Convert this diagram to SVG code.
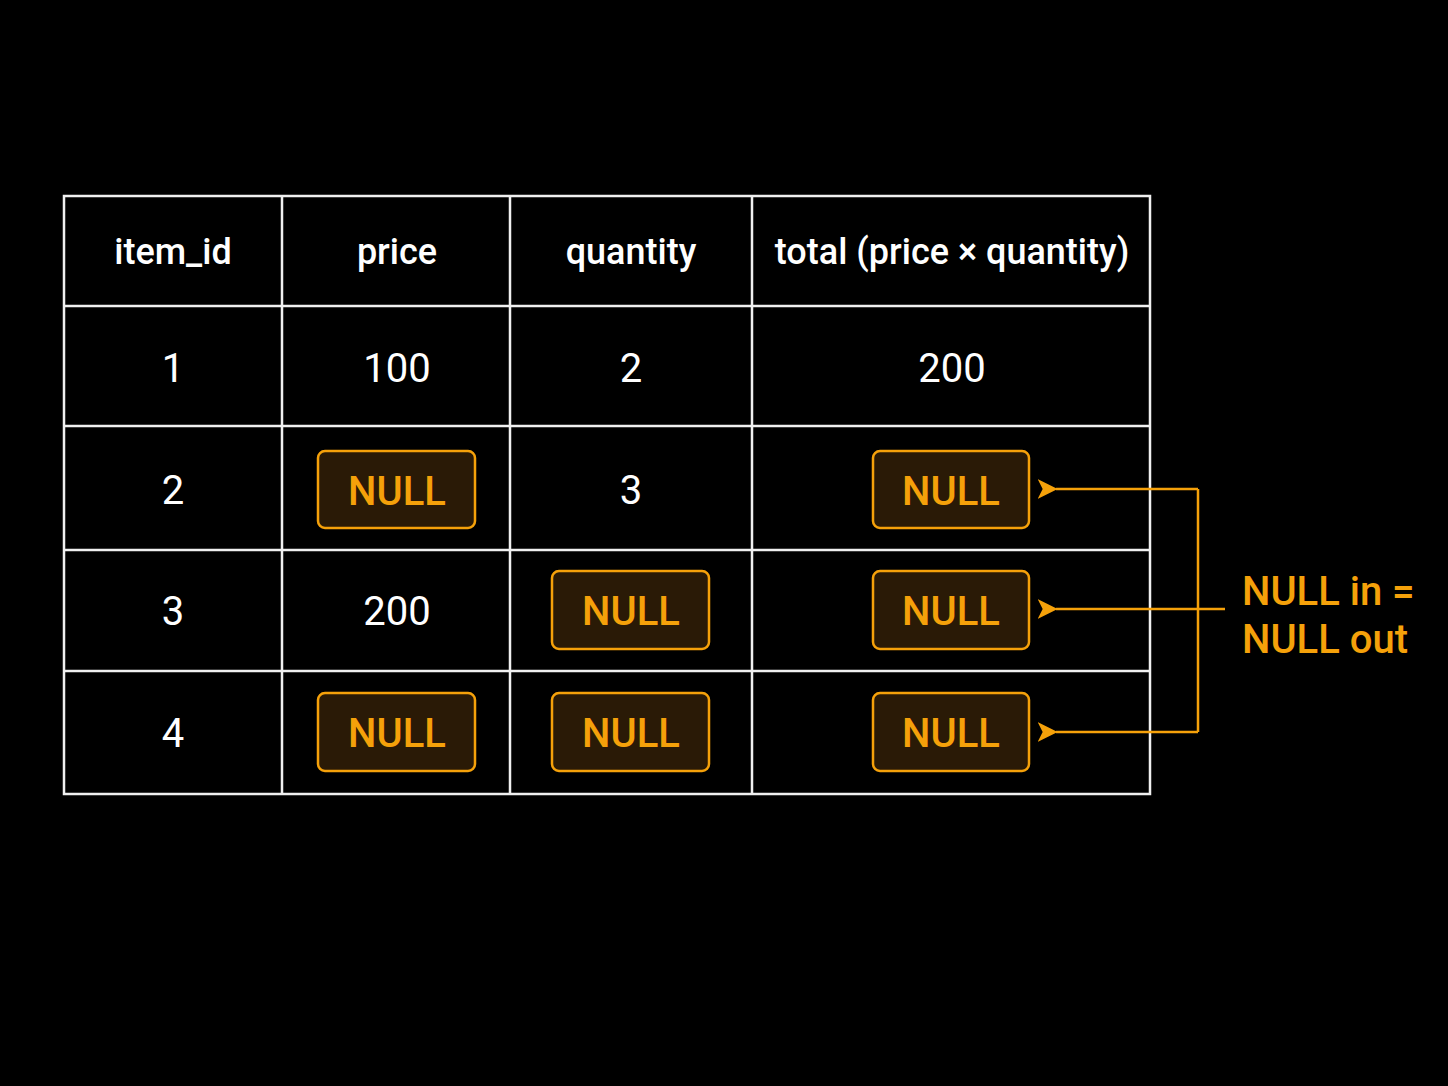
<svg xmlns="http://www.w3.org/2000/svg" width="1448" height="1086" viewBox="0 0 1448 1086">
<style>
.g{stroke:#f0f0f0;stroke-width:2.5;fill:none}
.h{font-family:Roboto,"Liberation Sans",sans-serif;font-weight:500;font-size:36px;fill:#fff;text-anchor:middle}
.v{font-family:Roboto,"Liberation Sans",sans-serif;font-size:40px;fill:#fff;text-anchor:middle}
.nb{fill:#2a1a06;stroke:#f5a10a;stroke-width:2.5}
.nt{font-family:Roboto,"Liberation Sans",sans-serif;font-weight:500;font-size:40px;fill:#f5a10a;text-anchor:middle}
.c{stroke:#f5a10a;stroke-width:2.5;fill:none}
</style>
<defs><marker id="a" viewBox="0 0 12 12" refX="1" refY="6" markerWidth="20" markerHeight="20" markerUnits="userSpaceOnUse" orient="auto"><path d="M12,0 L0,6 L12,12 L9,6 Z" fill="#f5a10a"/></marker></defs>
<rect width="1448" height="1086" fill="#000"/>
<g id="table">
<rect x="64" y="196" width="1086" height="598" class="g"/>
<path class="g" d="M282,196V794M510,196V794M752,196V794M64,306H1150M64,426H1150M64,550H1150M64,671H1150"/>
<text class="h" x="173" y="264">item_id</text>
<text class="h" x="397" y="264">price</text>
<text class="h" x="631" y="264">quantity</text>
<text class="h" x="952" y="264">total (price × quantity)</text>
<text class="v" x="173" y="382">1</text><text class="v" x="397" y="382">100</text><text class="v" x="631" y="382">2</text><text class="v" x="952" y="382">200</text>
<text class="v" x="173" y="504">2</text><text class="v" x="631" y="504">3</text>
<text class="v" x="173" y="625">3</text><text class="v" x="397" y="625">200</text>
<text class="v" x="173" y="747">4</text>
</g>
<g id="nulls">
<rect class="nb" x="318" y="451" width="157" height="77" rx="7"/><text class="nt" x="397" y="505">NULL</text>
<rect class="nb" x="873" y="451" width="156" height="77" rx="7"/><text class="nt" x="951" y="505">NULL</text>
<rect class="nb" x="552" y="571" width="157" height="78" rx="7"/><text class="nt" x="631" y="625">NULL</text>
<rect class="nb" x="873" y="571" width="156" height="78" rx="7"/><text class="nt" x="951" y="625">NULL</text>
<rect class="nb" x="318" y="693" width="157" height="78" rx="7"/><text class="nt" x="397" y="747">NULL</text>
<rect class="nb" x="552" y="693" width="157" height="78" rx="7"/><text class="nt" x="631" y="747">NULL</text>
<rect class="nb" x="873" y="693" width="156" height="78" rx="7"/><text class="nt" x="951" y="747">NULL</text>
</g>
<g id="connectors">
<path class="c" d="M1198,489V732"/>
<path class="c" d="M1198,489H1056" marker-end="url(#a)"/>
<path class="c" d="M1225,609H1056" marker-end="url(#a)"/>
<path class="c" d="M1198,732H1056" marker-end="url(#a)"/>
</g>
<g id="label">
<text class="nt" style="text-anchor:start" x="1242" y="605">NULL in =</text>
<text class="nt" style="text-anchor:start" x="1242" y="653">NULL out</text>
</g>
</svg>
